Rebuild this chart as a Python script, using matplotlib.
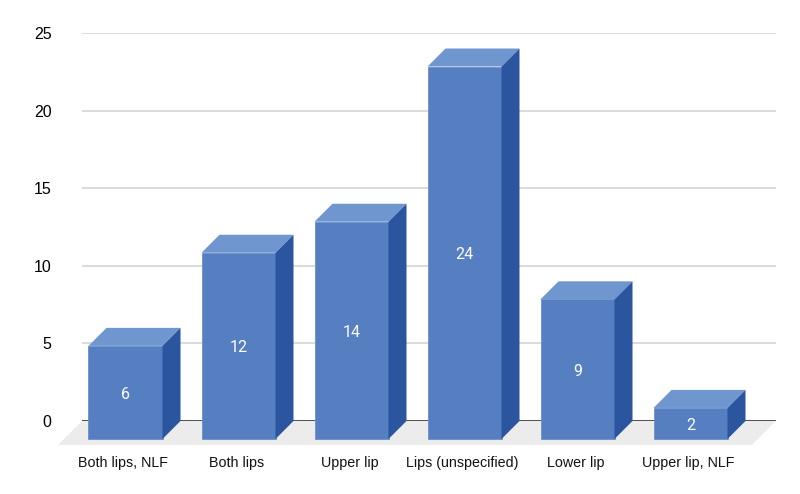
import matplotlib
matplotlib.use('Agg')
import matplotlib.pyplot as plt
from matplotlib.patches import Polygon
from matplotlib.transforms import ScaledTranslation

categories = ['Both lips, NLF', 'Both lips', 'Upper lip', 'Lips (unspecified)', 'Lower lip', 'Upper lip, NLF']
values = [6, 12, 14, 24, 9, 2]
y_ticks = [0, 5, 10, 15, 20, 25]

front_color = '#557fc1'
top_color = '#7096cf'
side_color = '#2b559f'
edge_color = '#6a8fcb'
floor_color = '#ececec'

plt.rcParams['font.family'] = ['Liberation Sans', 'DejaVu Sans']

fig = plt.figure(figsize=(8, 4.94), dpi=100)
ax = fig.add_axes([82 / 800, 1 - 421 / 494, (776 - 82) / 800, (421 - 33) / 494])

# one category is 113 px wide, one y unit 15.52 px
ax.set_xlim((82 - 125.5) / 113, (776 - 125.5) / 113)
ax.set_ylim(0, 25)
bar_w = 74 / 113
dx = 18 / 113
dy = 18 / 15.52
floor_dx = 24 / 113
floor_dy = 24 / 15.52

for s in ax.spines.values():
    s.set_visible(False)

ax.set_axisbelow(True)
ax.grid(axis='y', color='#d4d4d4', linewidth=1.2)
ax.grid(axis='x', visible=False)

x0, x1 = ax.get_xlim()
ax.add_patch(Polygon([(x0, 0), (x1, 0), (x1 - floor_dx, -floor_dy), (x0 - floor_dx, -floor_dy)],
                     facecolor=floor_color, edgecolor='none', clip_on=False, zorder=1))
ax.axhline(0, color='#444444', linewidth=1.3, zorder=1.5)

xs = list(range(len(categories)))
ax.bar(xs, values, width=bar_w, bottom=-dy, color=front_color, edgecolor=edge_color,
       linewidth=0.6, clip_on=False, zorder=3)

for x, v in zip(xs, values):
    left = x - bar_w / 2
    right = x + bar_w / 2
    top = v - dy
    ax.add_patch(Polygon([(left, top), (right, top), (right + dx, top + dy), (left + dx, top + dy)],
                         facecolor=top_color, edgecolor='none', clip_on=False, zorder=3))
    ax.add_patch(Polygon([(right, -dy), (right + dx, 0), (right + dx, top + dy), (right, top)],
                         facecolor=side_color, edgecolor='none', clip_on=False, zorder=3))
    # annotation_clip off, the label of the small bar sits below y=0
    ax.annotate(str(v), (x, top - v / 2), xytext=(0, -1.4), textcoords='offset points', color='white',
                fontsize=11.5, family=['Roboto', 'DejaVu Sans'], ha='center', va='center', zorder=4,
                annotation_clip=False)

ax.set_yticks(y_ticks)
ax.tick_params(axis='y', length=0, pad=22, labelsize=11.5, labelcolor='#000000')
ax.set_xticks(xs)
ax.set_xticklabels(categories)
ax.tick_params(axis='x', length=0, pad=25.5, labelsize=10.3, labelcolor='#111111')

# labels sit about 2 px left of the bar centres in the reference
shift = ScaledTranslation(-1.5 / 72, 0, fig.dpi_scale_trans)
for lab in ax.get_xticklabels():
    lab.set_transform(lab.get_transform() + shift)

fig.savefig('out.png', dpi=100, facecolor='white')
